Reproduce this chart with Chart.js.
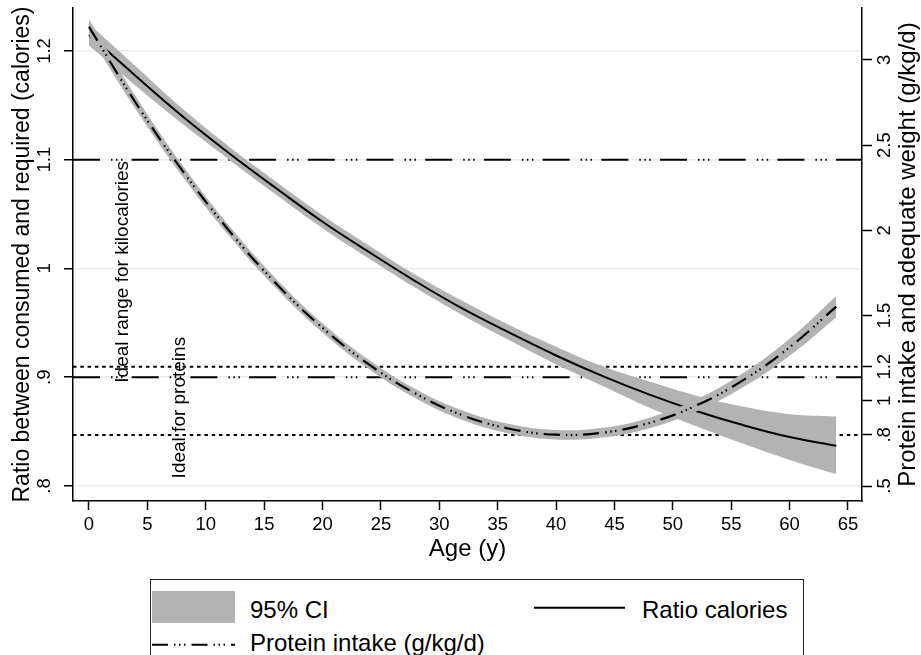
<!DOCTYPE html>
<html>
<head>
<meta charset="utf-8">
<script src="https://cdn.jsdelivr.net/npm/chart.js@4.4.0/dist/chart.umd.min.js"></script>
<style>
html,body{margin:0;padding:0;background:#fff;width:921px;height:655px;overflow:hidden;font-family:"Liberation Sans",Arial,sans-serif;}
#wrap{position:absolute;left:0;top:0;width:921px;height:575px;}
#legend{position:absolute;left:150px;top:579px;width:654px;height:90px;border:1px solid #222;box-sizing:border-box;}
.lab{position:absolute;font-size:24px;line-height:24px;color:#000;white-space:nowrap;}
.key{position:absolute;}
</style>
</head>
<body>
<div id="wrap"><canvas id="c"></canvas></div>
<div id="legend"></div>
<script>
// ---------- data ----------
const ages = [0, 4, 8, 12, 16, 20, 24, 28, 32, 36, 40, 44, 48, 52, 56, 60, 64];
const ratioCalories = [1.215, 1.177, 1.140, 1.106, 1.074, 1.043, 1.015, 0.988, 0.963, 0.941, 0.920, 0.901, 0.884, 0.869, 0.856, 0.845, 0.837];
const ratioLower    = [1.205, 1.168, 1.133, 1.100, 1.068, 1.037, 1.009, 0.982, 0.957, 0.934, 0.912, 0.892, 0.872, 0.855, 0.839, 0.824, 0.811];
const ratioUpper    = [1.225, 1.186, 1.147, 1.112, 1.080, 1.049, 1.021, 0.994, 0.970, 0.948, 0.928, 0.910, 0.896, 0.883, 0.873, 0.866, 0.864];
const proteinIntake = [3.194, 2.749, 2.351, 1.998, 1.690, 1.428, 1.212, 1.041, 0.915, 0.836, 0.801, 0.813, 0.870, 0.972, 1.120, 1.314, 1.553];
const proteinLower  = [3.149, 2.711, 2.318, 1.968, 1.662, 1.401, 1.185, 1.014, 0.887, 0.808, 0.773, 0.784, 0.839, 0.937, 1.079, 1.264, 1.491];
const proteinUpper  = [3.239, 2.787, 2.384, 2.028, 1.718, 1.455, 1.239, 1.068, 0.943, 0.864, 0.829, 0.842, 0.901, 1.007, 1.161, 1.364, 1.615];

const kcalLimits = [0.9, 1.1];       // left axis, ideal range for kilocalories
const proteinLimits = [0.8, 1.2];    // right axis, ideal for proteins

const xTicks = [0, 5, 10, 15, 20, 25, 30, 35, 40, 45, 50, 55, 60, 65];
const leftTicks = [0.8, 0.9, 1.0, 1.1, 1.2];
const leftTickLabels = ['.8', '.9', '1', '1.1', '1.2'];
const rightTicks = [0.5, 0.8, 1, 1.2, 1.5, 2, 2.5, 3];
const rightTickLabels = ['.5', '.8', '1', '1.2', '1.5', '2', '2.5', '3'];

const xRange = [-1.37, 66.2];
const leftRange = [0.7862, 1.2395];
const rightRange = [0.412, 3.305];

const xTitle = 'Age (y)';
const leftTitle = 'Ratio between consumed and required (calories)';
const rightTitle = 'Protein intake and adequate weight (g/kg/d)';
const noteTexts = ['Ideal range for kilocalories', 'Ideal for proteins'];
const noteAges = [2.85, 7.75];
const noteValues = [0.895, 0.807];
const legendLabels = ['95% CI', 'Ratio calories', 'Protein intake (g/kg/d)'];

// ---------- styling ----------
const FONT = "'Liberation Sans', Arial, sans-serif";
const BAND = '#b3b3b3';
const proteinDash = [16, 6, 1.5, 3.5, 1.5, 3.5, 1.5, 6];
const kcalDash = [27, 11, 1.5, 3.5, 1.5, 3.5, 1.5, 9.2];
const dotDash = [3.5, 3.8];

Chart.defaults.font.family = FONT;
Chart.defaults.color = '#000';

const pts = (ys) => ages.map((a, i) => ({x: a, y: ys[i]}));
const hline = (v) => [{x: xRange[0], y: v}, {x: xRange[1], y: v}];
const labelFor = (ticks, labels) => (v) => {
  const i = ticks.findIndex(t => Math.abs(t - v) < 1e-9);
  return i >= 0 ? labels[i] : '';
};

const datasets = [];
kcalLimits.forEach(v => datasets.push({data: hline(v), yAxisID: 'y', borderColor: '#000', borderWidth: 2,
  borderDash: kcalDash, tension: 0, pointRadius: 0, fill: false, order: 10}));
proteinLimits.forEach(v => datasets.push({data: hline(v), yAxisID: 'y2', borderColor: '#000', borderWidth: 2,
  borderDash: dotDash, tension: 0, pointRadius: 0, fill: false, order: 10}));
datasets.push({data: pts(ratioLower), yAxisID: 'y', borderColor: 'transparent', borderWidth: 0, pointRadius: 0, tension: 0.4, fill: false, order: 9});
datasets.push({data: pts(ratioUpper), yAxisID: 'y', borderColor: 'transparent', borderWidth: 0, pointRadius: 0, tension: 0.4, fill: '-1', backgroundColor: BAND, order: 8});
datasets.push({data: pts(ratioCalories), yAxisID: 'y', borderColor: '#000', borderWidth: 2, pointRadius: 0, tension: 0.4, fill: false, order: 7});
datasets.push({data: pts(proteinLower), yAxisID: 'y2', borderColor: 'transparent', borderWidth: 0, pointRadius: 0, tension: 0.4, fill: false, order: 6});
datasets.push({data: pts(proteinUpper), yAxisID: 'y2', borderColor: 'transparent', borderWidth: 0, pointRadius: 0, tension: 0.4, fill: '-1', backgroundColor: BAND, order: 5});
datasets.push({data: pts(proteinIntake), yAxisID: 'y2', borderColor: '#000', borderWidth: 2.2, borderDash: proteinDash, pointRadius: 0, tension: 0.4, fill: false, order: 4});

const notesPlugin = {
  id: 'notes',
  afterDatasetsDraw(chart) {
    const {ctx, scales} = chart;
    ctx.save();
    ctx.font = '19px ' + FONT;
    ctx.fillStyle = '#000';
    ctx.textAlign = 'left';
    ctx.textBaseline = 'middle';
    noteTexts.forEach((t, i) => {
      const px = scales.x.getPixelForValue(noteAges[i]);
      const py = scales.y.getPixelForValue(noteValues[i]);
      ctx.save();
      ctx.translate(px, py);
      ctx.rotate(-Math.PI / 2);
      ctx.fillText(t, 0, 0);
      ctx.restore();
    });
    ctx.restore();
  }
};
const rightTitlePlugin = {
  id: 'rightTitle',
  afterDraw(chart) {
    const {ctx, chartArea: a} = chart;
    ctx.save();
    ctx.translate(a.right + 46, (a.top + a.bottom) / 2);
    ctx.rotate(-Math.PI / 2);
    ctx.font = '24px ' + FONT;
    ctx.fillStyle = '#000';
    ctx.textAlign = 'center';
    ctx.textBaseline = 'middle';
    ctx.fillText(rightTitle, 0, 0);
    ctx.restore();
  }
};

new Chart(document.getElementById('c'), {
  type: 'line',
  data: {datasets},
  options: {
    responsive: true,
    maintainAspectRatio: false,
    animation: false,
    layout: {padding: {top: 8, left: 0, right: 0, bottom: 0}},
    plugins: {legend: {display: false}, tooltip: {enabled: false}},
    elements: {point: {radius: 0}, line: {borderCapStyle: 'butt'}},
    scales: {
      x: {
        type: 'linear', position: 'bottom', min: xRange[0], max: xRange[1],
        afterBuildTicks: s => { s.ticks = xTicks.map(v => ({value: v})); },
        afterFit: s => { s.height = 74; s.paddingLeft = 0; s.paddingRight = 0; },
        ticks: {font: {size: 18.5}, padding: 4, maxRotation: 0, autoSkip: false, callback: v => String(v)},
        grid: {drawOnChartArea: false, drawTicks: true, tickLength: 9, tickWidth: 1.5, tickColor: '#000'},
        border: {display: true, color: '#000', width: 1.5},
        title: {display: true, text: xTitle, font: {size: 24}, padding: {top: 0, bottom: 11.6}}
      },
      y: {
        type: 'linear', position: 'left', min: leftRange[0], max: leftRange[1],
        afterBuildTicks: s => { s.ticks = leftTicks.map(v => ({value: v})); },
        afterFit: s => { s.width = 73; s.paddingTop = 0; s.paddingBottom = 0; },
        ticks: {font: {size: 18.5}, padding: 6, minRotation: 90, maxRotation: 90, crossAlign: 'center', autoSkip: false,
          callback: labelFor(leftTicks, leftTickLabels)},
        grid: {color: '#ebebeb', lineWidth: 1.5, drawTicks: true, tickLength: 9, tickWidth: 1.5, tickColor: '#000'},
        border: {display: true, color: '#000', width: 1.5},
        title: {display: true, text: leftTitle, font: {size: 23}, padding: {top: 9, bottom: 0}}
      },
      y2: {
        type: 'linear', position: 'right', min: rightRange[0], max: rightRange[1],
        afterBuildTicks: s => { s.ticks = rightTicks.map(v => ({value: v})); },
        afterFit: s => { s.width = 59; s.paddingTop = 0; s.paddingBottom = 0; },
        ticks: {font: {size: 18.5}, padding: 0, minRotation: 90, maxRotation: 90, crossAlign: 'center', autoSkip: false,
          callback: labelFor(rightTicks, rightTickLabels)},
        grid: {drawOnChartArea: false, drawTicks: true, tickLength: 10, tickWidth: 1.5, tickColor: '#000'},
        border: {display: true, color: '#000', width: 1.5}
      }
    }
  },
  plugins: [notesPlugin, rightTitlePlugin]
});

// ---------- legend (HTML) ----------
const leg = document.getElementById('legend');
function addEl(tag, style, text) {
  const e = document.createElement(tag);
  e.style.cssText = style;
  if (text) e.textContent = text;
  leg.appendChild(e);
  return e;
}
function addLineKey(left, top, width, dash) {
  const ns = 'http://www.w3.org/2000/svg';
  const svg = document.createElementNS(ns, 'svg');
  svg.setAttribute('width', width); svg.setAttribute('height', 20);
  svg.setAttribute('class', 'key');
  svg.style.left = left + 'px'; svg.style.top = top + 'px';
  const ln = document.createElementNS(ns, 'line');
  ln.setAttribute('x1', 0); ln.setAttribute('x2', width);
  ln.setAttribute('y1', 9.7); ln.setAttribute('y2', 9.7);
  ln.setAttribute('stroke', '#000'); ln.setAttribute('stroke-width', 2);
  if (dash) ln.setAttribute('stroke-dasharray', dash.join(' '));
  svg.appendChild(ln);
  leg.appendChild(svg);
}
addEl('div', 'position:absolute;left:1px;top:11px;width:83px;height:32px;background:' + BAND);
addEl('div', 'left:99px;top:18px', legendLabels[0]).className = 'lab';
addLineKey(383, 18, 91, null);
addEl('div', 'left:491px;top:18px', legendLabels[1]).className = 'lab';
addLineKey(1, 55, 83, proteinDash);
addEl('div', 'left:99px;top:51px', legendLabels[2]).className = 'lab';
</script>
</body>
</html>
